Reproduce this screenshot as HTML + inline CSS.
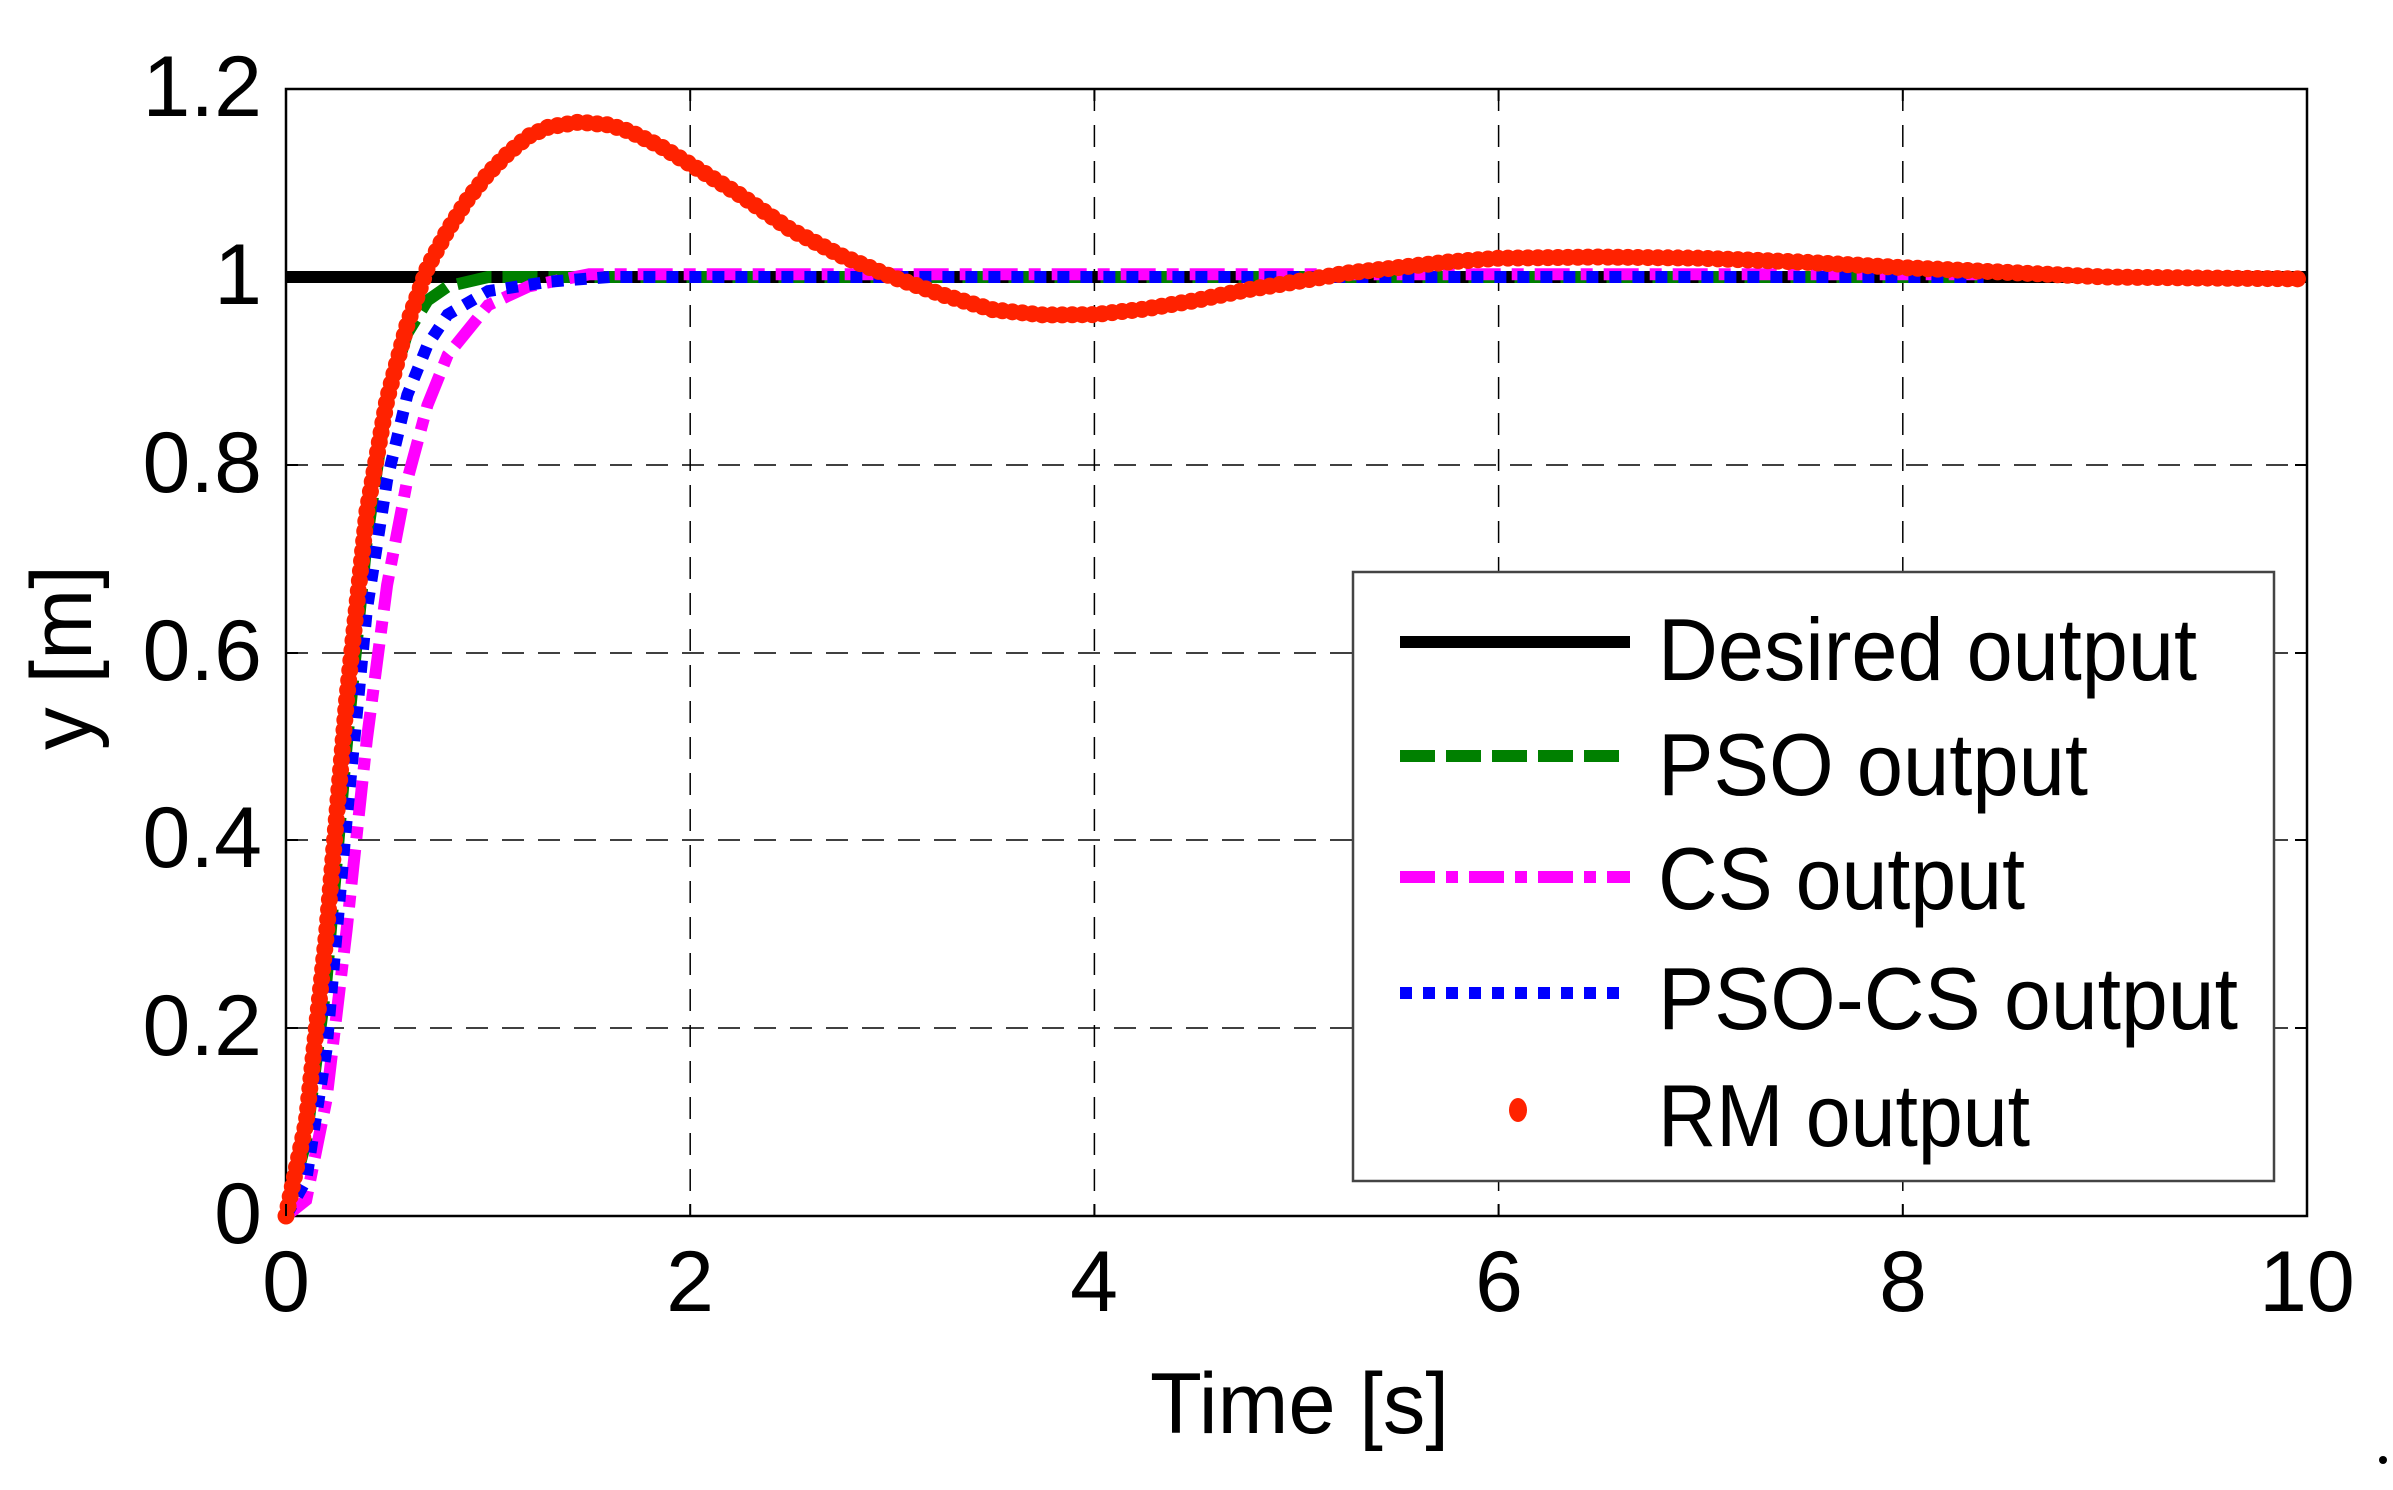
<!DOCTYPE html>
<html><head><meta charset="utf-8"><style>html,body{margin:0;padding:0;background:#fff}svg{display:block}text{font-family:"Liberation Sans",Arial,sans-serif;fill:#000}</style></head>
<body>
<svg width="2393" height="1490" viewBox="0 0 2393 1490" xmlns="http://www.w3.org/2000/svg">
<rect width="2393" height="1490" fill="#fff"/>
<g stroke="#000" stroke-width="1.5" stroke-dasharray="22,14" fill="none">
<line x1="690.2" y1="89" x2="690.2" y2="1216"/>
<line x1="1094.4" y1="89" x2="1094.4" y2="1216"/>
<line x1="1498.6" y1="89" x2="1498.6" y2="1216"/>
<line x1="1902.8" y1="89" x2="1902.8" y2="1216"/>
<line x1="286" y1="1028" x2="2307" y2="1028"/>
<line x1="286" y1="840" x2="2307" y2="840"/>
<line x1="286" y1="653" x2="2307" y2="653"/>
<line x1="286" y1="465" x2="2307" y2="465"/>
</g>
<rect x="286" y="89" width="2021" height="1127" fill="none" stroke="#000" stroke-width="2.5"/>
<line x1="286" y1="277" x2="2307" y2="277" stroke="#000" stroke-width="12"/>
<polyline fill="none" stroke="#008000" stroke-width="12" stroke-dasharray="35,11" points="286,1216 306.2,1140.9 326.4,981.3 346.6,746.5 366.8,539.9 387.1,399.1 407.3,333.3 427.5,300.5 447.7,286.4 488.1,277 1983.6,277"/>
<polyline fill="none" stroke="#ff00ff" stroke-width="12" stroke-dasharray="35,11,12,11" points="286,1216 306.2,1200 326.4,1100 346.6,930 366.8,740 387.1,585 407.3,480 427.5,405 447.7,355 488.1,305.2 528.5,286.4 589.2,274.2 1983.6,274.2"/>
<polyline fill="none" stroke="#0000ff" stroke-width="12" stroke-dasharray="12,11" points="286,1216 306.2,1180 326.4,1050 346.6,820 366.8,610 387.1,480 407.3,395 427.5,345 447.7,314.6 488.1,291.1 548.7,281.7 609.4,277 1983.6,277"/>
<polyline fill="none" stroke="#ff2200" stroke-width="17" stroke-linecap="round" stroke-dasharray="0,10" points="286,1216 306.2,1122.1 326.4,934.3 346.6,699.6 366.8,511.8 387.1,399.1 407.3,324 427.5,267.6 447.7,230.1 467.9,199 488.1,173.7 508.3,153 528.5,136.2 548.7,127 579,122.1 609.4,125 629.6,131.5 660,146 690.2,164.3 740,195 791.3,230.1 842,256 892.3,277 943,295 993.4,309.9 1044,315 1094.4,314.6 1145,309 1195.5,300.5 1246,290 1296.5,281.7 1347,273 1397.6,267.6 1448,262 1498.6,258.2 1600,257 1700.7,258.2 1800,262 1902.8,267.6 2000,272 2104.9,277 2200,278 2307,278.9"/>
<g stroke="#000" stroke-width="2">
<line x1="286" y1="1216" x2="286" y2="1204"/><line x1="690.2" y1="1216" x2="690.2" y2="1204"/><line x1="1094.4" y1="1216" x2="1094.4" y2="1204"/><line x1="1498.6" y1="1216" x2="1498.6" y2="1204"/><line x1="1902.8" y1="1216" x2="1902.8" y2="1204"/>
<line x1="690.2" y1="89" x2="690.2" y2="101"/><line x1="1094.4" y1="89" x2="1094.4" y2="101"/><line x1="1498.6" y1="89" x2="1498.6" y2="101"/><line x1="1902.8" y1="89" x2="1902.8" y2="101"/>
<line x1="286" y1="1028" x2="298" y2="1028"/><line x1="286" y1="840" x2="298" y2="840"/><line x1="286" y1="653" x2="298" y2="653"/><line x1="286" y1="465" x2="298" y2="465"/>
<line x1="2307" y1="1028" x2="2295" y2="1028"/><line x1="2307" y1="840" x2="2295" y2="840"/><line x1="2307" y1="653" x2="2295" y2="653"/><line x1="2307" y1="465" x2="2295" y2="465"/>
</g>
<g font-size="86">
<text x="262" y="1243" text-anchor="end">0</text>
<text x="262" y="1055" text-anchor="end">0.2</text>
<text x="262" y="867" text-anchor="end">0.4</text>
<text x="262" y="680" text-anchor="end">0.6</text>
<text x="262" y="492" text-anchor="end">0.8</text>
<text x="262" y="304" text-anchor="end">1</text>
<text x="262" y="116" text-anchor="end">1.2</text>
<text x="286" y="1311" text-anchor="middle">0</text>
<text x="690" y="1311" text-anchor="middle">2</text>
<text x="1094" y="1311" text-anchor="middle">4</text>
<text x="1499" y="1311" text-anchor="middle">6</text>
<text x="1903" y="1311" text-anchor="middle">8</text>
<text x="2307" y="1311" text-anchor="middle">10</text>
<text x="1150" y="1433" textLength="299" lengthAdjust="spacingAndGlyphs">Time [s]</text>
<text transform="translate(91,750) rotate(-90)" textLength="185" lengthAdjust="spacingAndGlyphs">y [m]</text>
</g>
<rect x="1353" y="572" width="921" height="609" fill="#fff" stroke="#444" stroke-width="2.5"/>
<line x1="1400" y1="642" x2="1630" y2="642" stroke="#000" stroke-width="12"/>
<line x1="1400" y1="756" x2="1620" y2="756" stroke="#008000" stroke-width="12" stroke-dasharray="35,11"/>
<line x1="1400" y1="877" x2="1630" y2="877" stroke="#ff00ff" stroke-width="12" stroke-dasharray="35,11,12,11"/>
<line x1="1400" y1="993" x2="1620" y2="993" stroke="#0000ff" stroke-width="12" stroke-dasharray="12,11"/>
<ellipse cx="1518" cy="1110" rx="9" ry="12" fill="#ff2200"/>
<g font-size="88">
<text x="1658" y="680" textLength="539" lengthAdjust="spacingAndGlyphs">Desired output</text>
<text x="1658" y="795" textLength="430" lengthAdjust="spacingAndGlyphs">PSO output</text>
<text x="1658" y="909" textLength="367" lengthAdjust="spacingAndGlyphs">CS output</text>
<text x="1658" y="1029" textLength="580" lengthAdjust="spacingAndGlyphs">PSO-CS output</text>
<text x="1658" y="1146" textLength="372" lengthAdjust="spacingAndGlyphs">RM output</text>
</g>
<circle cx="2383" cy="1460" r="4" fill="#000"/>
</svg>
</body></html>
